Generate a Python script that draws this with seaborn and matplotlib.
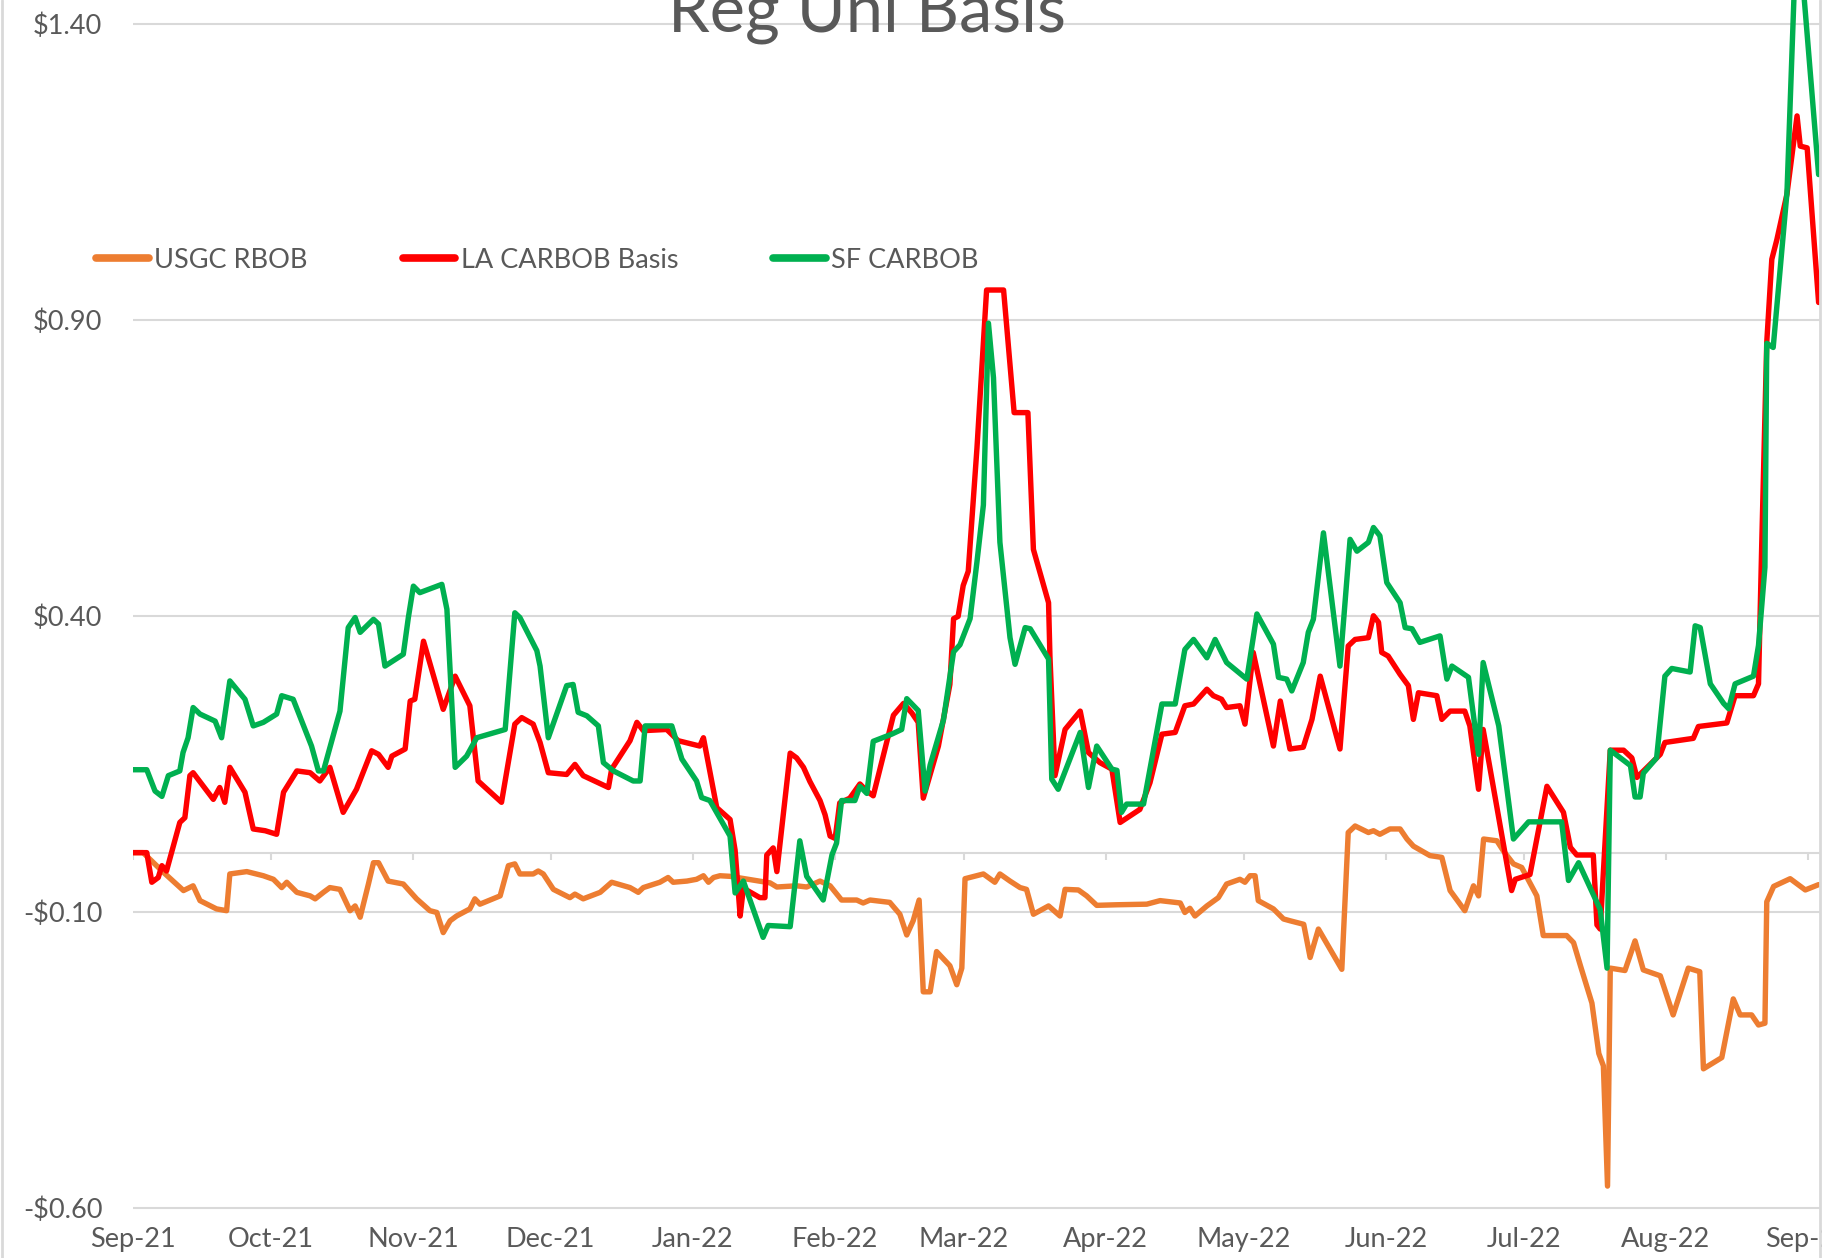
import pandas as pd
import matplotlib.pyplot as plt
import matplotlib.dates as mdates
from matplotlib.lines import Line2D
from matplotlib.ticker import FuncFormatter
import seaborn as sns

start = pd.Timestamp("2021-09-01")

# x values are days after 2021-09-01, y values in $/gal
usgc_day = [0, 2.2, 6.6, 11.0, 13.1, 14.6, 18.2, 20.4, 21.1, 24.8,
            28.4, 30.6, 32.4, 33.5, 35.7, 38.6, 39.7, 41.5, 42.9, 45.1,
            47.3, 48.4, 49.5, 51.3, 52.4, 53.5, 55.6, 58.9, 61.8, 64.7,
            66.2, 67.6, 69.1, 70.5, 73.4, 74.5, 75.6, 80.0, 81.8, 83.2,
            84.3, 87.2, 88.3, 89.4, 91.6, 95.2, 96.3, 98.1, 101.8, 104.3,
            108.3, 110.1, 111.2, 114.8, 116.6, 117.7, 120.7, 122.8, 124.3, 125.4,
            126.5, 127.9, 130.1, 138.8, 140.3, 144.6, 146.8, 149.7, 151.9, 154.4,
            157.7, 159.1, 160.6, 164.9, 167.1, 168.6, 170.0, 171.3, 172.2, 173.7,
            175.1, 178.0, 179.5, 180.6, 181.3, 185.3, 187.8, 188.9, 191.1, 193.3,
            194.7, 196.2, 199.5, 202.0, 203.1, 206.0, 207.8, 210.0, 214.4, 220.9,
            223.8, 228.2, 229.2, 230.3, 231.4, 234.0, 236.5, 238.3, 241.2, 242.3,
            243.4, 244.5, 245.2, 248.5, 250.7, 252.1, 255.1, 256.5, 258.3, 263.4,
            264.8, 266.3, 269.2, 270.3, 271.7, 273.9, 276.1, 277.6, 279.0, 282.6,
            285.2, 287.0, 290.2, 292.1, 293.2, 294.3, 297.2, 298.6, 300.8, 302.6,
            305.9, 307.3, 312.4, 313.9, 315.4, 317.9, 319.4, 320.4, 321.3, 321.9,
            325.1, 327.3, 329.1, 332.8, 335.6, 338.9, 341.4, 342.2, 346.2, 348.7,
            350.2, 352.7, 354.2, 355.6, 356.0, 357.5, 361.1, 364.4, 367.3]
usgc_val = [0.000, 0.000, -0.033, -0.064, -0.056, -0.081, -0.095, -0.098, -0.036, -0.032,
            -0.039, -0.045, -0.059, -0.050, -0.067, -0.073, -0.078, -0.067, -0.059, -0.062,
            -0.098, -0.090, -0.109, -0.053, -0.017, -0.017, -0.048, -0.053, -0.078, -0.098,
            -0.101, -0.135, -0.115, -0.107, -0.095, -0.078, -0.087, -0.073, -0.022, -0.019,
            -0.036, -0.036, -0.031, -0.036, -0.062, -0.076, -0.070, -0.078, -0.067, -0.050,
            -0.059, -0.067, -0.059, -0.050, -0.042, -0.050, -0.048, -0.045, -0.039, -0.050,
            -0.042, -0.039, -0.040, -0.051, -0.058, -0.056, -0.058, -0.048, -0.056, -0.080,
            -0.080, -0.085, -0.080, -0.084, -0.104, -0.139, -0.115, -0.080, -0.235, -0.235,
            -0.167, -0.191, -0.223, -0.195, -0.044, -0.036, -0.050, -0.036, -0.048, -0.059,
            -0.062, -0.104, -0.090, -0.107, -0.062, -0.063, -0.073, -0.089, -0.088, -0.087,
            -0.081, -0.085, -0.101, -0.094, -0.107, -0.090, -0.076, -0.053, -0.045, -0.050,
            -0.039, -0.039, -0.081, -0.095, -0.112, -0.115, -0.121, -0.177, -0.129, -0.197,
            0.034, 0.045, 0.034, 0.037, 0.031, 0.040, 0.040, 0.023, 0.011, -0.005,
            -0.008, -0.064, -0.098, -0.056, -0.073, 0.023, 0.020, 0.003, -0.019, -0.025,
            -0.073, -0.140, -0.140, -0.152, -0.191, -0.254, -0.339, -0.360, -0.563, -0.195,
            -0.199, -0.149, -0.198, -0.208, -0.274, -0.195, -0.201, -0.365, -0.346, -0.247,
            -0.274, -0.274, -0.291, -0.288, -0.083, -0.057, -0.044, -0.063, -0.054]

la_day = [0, 3.0, 4.1, 5.5, 6.3, 7.3, 10.2, 11.3, 12.4, 13.1,
          17.5, 18.9, 20.0, 21.1, 24.4, 26.2, 28.8, 31.3, 32.8, 35.7,
          38.6, 40.7, 42.9, 45.8, 48.7, 52.0, 53.5, 55.6, 56.4, 59.3,
          60.4, 61.4, 63.3, 67.6, 70.2, 73.4, 75.2, 80.3, 83.2, 84.7,
          87.2, 88.7, 90.5, 94.5, 96.3, 98.1, 103.6, 104.3, 108.3, 109.8,
          111.2, 116.3, 118.8, 123.5, 124.3, 127.2, 130.1, 131.2, 132.3, 133.0,
          136.6, 137.7, 138.1, 139.5, 140.3, 143.2, 144.6, 146.1, 147.5, 149.7,
          150.8, 151.9, 153.0, 154.0, 156.2, 158.4, 159.9, 161.3, 165.7, 167.9,
          169.7, 171.1, 172.2, 175.5, 178.0, 178.8, 179.8, 180.9, 182.0, 183.9,
          186.0, 189.7, 192.0, 195.0, 196.2, 199.5, 199.8, 200.9, 203.1, 206.4,
          208.2, 210.7, 213.3, 215.1, 219.4, 221.6, 224.2, 227.1, 229.2, 231.1,
          234.0, 235.4, 237.2, 238.3, 241.2, 242.3, 244.1, 248.5, 250.0, 252.1,
          255.0, 256.9, 258.7, 263.0, 264.8, 266.3, 269.2, 270.3, 271.4, 272.1,
          273.5, 276.1, 277.9, 279.0, 280.1, 284.1, 285.2, 287.0, 290.2, 291.3,
          293.2, 294.2, 300.4, 301.2, 304.4, 308.1, 311.7, 313.2, 314.6, 318.2,
          319.0, 319.7, 321.9, 324.8, 326.6, 327.7, 332.8, 333.8, 340.0, 341.1,
          347.3, 349.1, 353.1, 354.2, 354.9, 356.0, 357.1, 358.2, 360.4, 362.6,
          363.3, 364.8, 367.3]
la_val = [0.000, 0.000, -0.050, -0.042, -0.022, -0.031, 0.051, 0.059, 0.130, 0.135,
          0.090, 0.110, 0.085, 0.144, 0.102, 0.040, 0.037, 0.031, 0.102, 0.138,
          0.135, 0.121, 0.144, 0.068, 0.107, 0.172, 0.166, 0.144, 0.163, 0.175,
          0.256, 0.259, 0.357, 0.242, 0.298, 0.248, 0.121, 0.085, 0.217, 0.228,
          0.217, 0.186, 0.135, 0.132, 0.149, 0.130, 0.110, 0.141, 0.189, 0.220,
          0.206, 0.208, 0.189, 0.180, 0.194, 0.076, 0.056, 0.004, -0.107, -0.060,
          -0.076, -0.076, -0.004, 0.008, -0.032, 0.168, 0.160, 0.144, 0.120, 0.088,
          0.064, 0.028, 0.024, 0.084, 0.092, 0.116, 0.104, 0.096, 0.232, 0.252,
          0.236, 0.220, 0.092, 0.180, 0.284, 0.395, 0.399, 0.451, 0.475, 0.683,
          0.950, 0.950, 0.743, 0.743, 0.512, 0.422, 0.332, 0.130, 0.208, 0.239,
          0.169, 0.152, 0.141, 0.051, 0.073, 0.118, 0.200, 0.203, 0.248, 0.251,
          0.276, 0.265, 0.259, 0.245, 0.248, 0.217, 0.338, 0.180, 0.256, 0.175,
          0.178, 0.225, 0.298, 0.175, 0.349, 0.360, 0.363, 0.400, 0.389, 0.338,
          0.332, 0.301, 0.282, 0.225, 0.270, 0.265, 0.225, 0.239, 0.239, 0.214,
          0.107, 0.208, -0.064, -0.045, -0.037, 0.112, 0.068, 0.009, -0.004, -0.004,
          -0.122, -0.129, 0.173, 0.173, 0.160, 0.127, 0.166, 0.186, 0.193, 0.213,
          0.219, 0.265, 0.265, 0.285, 0.519, 0.862, 1.002, 1.035, 1.112, 1.244,
          1.193, 1.190, 0.929]

sf_day = [0, 3.0, 4.8, 6.3, 7.7, 10.2, 10.9, 12.0, 13.1, 14.6,
          17.9, 19.3, 21.1, 24.4, 26.2, 28.4, 31.3, 32.4, 34.9, 38.9,
          40.4, 41.5, 45.1, 46.9, 48.4, 49.5, 52.4, 53.5, 54.9, 58.9,
          60.0, 61.1, 62.5, 67.3, 68.4, 70.2, 72.7, 74.9, 81.1, 83.2,
          84.3, 88.0, 88.7, 90.5, 94.5, 95.9, 97.0, 98.9, 101.4, 102.5,
          104.7, 109.0, 110.5, 111.6, 117.4, 119.6, 122.8, 123.9, 125.7, 130.1,
          131.2, 133.0, 137.3, 138.4, 143.2, 145.3, 146.8, 150.4, 152.3, 153.3,
          154.4, 157.3, 158.4, 159.9, 161.3, 165.3, 167.5, 168.6, 171.1, 172.6,
          173.7, 176.6, 178.8, 180.2, 182.4, 183.9, 185.3, 186.4, 187.5, 188.9,
          191.1, 192.2, 194.4, 195.5, 199.5, 200.2, 201.6, 206.4, 208.2, 210.0,
          213.3, 214.4, 215.4, 216.5, 220.2, 224.2, 227.1, 229.2, 231.1, 234.0,
          235.8, 238.3, 242.7, 244.9, 248.5, 249.6, 251.4, 252.5, 255.0, 256.1,
          257.2, 259.4, 263.0, 265.2, 266.7, 269.2, 270.3, 271.7, 273.2, 276.1,
          277.2, 278.7, 280.4, 284.8, 286.3, 287.4, 291.0, 293.2, 294.2, 297.6,
          300.8, 304.1, 311.3, 312.8, 315.0, 319.7, 321.2, 321.9, 326.3, 327.3,
          328.4, 329.1, 332.0, 333.8, 335.3, 339.3, 340.4, 341.5, 343.7, 346.6,
          347.7, 349.1, 353.1, 354.2, 355.6, 356.0, 357.4, 360.4, 362.6, 367.3]
sf_val = [0.140, 0.140, 0.104, 0.095, 0.130, 0.138, 0.169, 0.194, 0.245, 0.234,
          0.222, 0.194, 0.290, 0.259, 0.214, 0.220, 0.234, 0.265, 0.259, 0.180,
          0.138, 0.138, 0.239, 0.380, 0.397, 0.372, 0.394, 0.386, 0.315, 0.335,
          0.397, 0.450, 0.439, 0.453, 0.411, 0.144, 0.163, 0.194, 0.208, 0.405,
          0.397, 0.341, 0.315, 0.194, 0.282, 0.284, 0.237, 0.231, 0.214, 0.152,
          0.138, 0.121, 0.121, 0.214, 0.214, 0.158, 0.121, 0.093, 0.088, 0.028,
          -0.068, -0.048, -0.143, -0.123, -0.125, 0.020, -0.040, -0.080, -0.004, 0.016,
          0.088, 0.088, 0.112, 0.100, 0.188, 0.200, 0.208, 0.260, 0.240, 0.104,
          0.148, 0.224, 0.339, 0.351, 0.395, 0.491, 0.587, 0.894, 0.802, 0.524,
          0.363, 0.318, 0.380, 0.378, 0.327, 0.124, 0.107, 0.203, 0.110, 0.180,
          0.141, 0.139, 0.068, 0.082, 0.082, 0.251, 0.251, 0.343, 0.360, 0.329,
          0.360, 0.321, 0.293, 0.403, 0.352, 0.296, 0.293, 0.273, 0.321, 0.372,
          0.394, 0.540, 0.315, 0.529, 0.509, 0.524, 0.549, 0.535, 0.456, 0.422,
          0.380, 0.378, 0.355, 0.366, 0.293, 0.315, 0.296, 0.166, 0.321, 0.214,
          0.023, 0.052, 0.052, -0.047, -0.017, -0.096, -0.195, 0.173, 0.147, 0.094,
          0.094, 0.134, 0.160, 0.298, 0.311, 0.305, 0.383, 0.380, 0.285, 0.252,
          0.243, 0.285, 0.298, 0.350, 0.482, 0.860, 0.853, 1.114, 1.590, 1.145]

series_names = ["USGC RBOB", "LA CARBOB Basis", "SF CARBOB"]
series_colors = ["#ED7D31", "#FF0000", "#00B050"]
y_ticks = [-0.60, -0.10, 0.40, 0.90, 1.40]

frames = []
for name, days, vals in zip(series_names, [usgc_day, la_day, sf_day], [usgc_val, la_val, sf_val]):
    frames.append(pd.DataFrame({"date": start + pd.to_timedelta(days, unit="D"),
                                "basis": vals, "series": name}))
df = pd.concat(frames, ignore_index=True)

sns.set_style("white")
plt.rcParams['font.family'] = ['Lato', 'DejaVu Sans']
grey_text = "#595959"
grid_col = "#D9D9D9"

fig = plt.figure(figsize=(18.22, 12.58), dpi=100)
ax = fig.add_axes([133 / 1822, 48 / 1258, (1820 - 133) / 1822, 1210 / 1258])

sns.lineplot(data=df, x="date", y="basis", hue="series", hue_order=series_names,
             palette=dict(zip(series_names, series_colors)), estimator=None,
             sort=False, linewidth=3.9, ax=ax, zorder=3)
ax.get_legend().remove()

ax.set_xlim(start, start + pd.Timedelta(days=367.6))
ax.set_ylim(-0.6034, 1.4397)
ax.set_yticks(y_ticks)
ax.yaxis.set_major_formatter(FuncFormatter(lambda v, p: f"${v:.2f}" if v >= 0 else f"-${-v:.2f}"))
ax.yaxis.grid(True, color=grid_col, lw=1.5)
ax.xaxis.grid(False)

# horizontal axis crosses at zero, with month tick marks
month_starts = pd.date_range("2021-09-01", "2022-09-01", freq="MS")
ax.axhline(0, color=grid_col, lw=1.5, zorder=1)
ax.vlines(month_starts, -0.012, 0, color=grid_col, lw=1.5, zorder=1)

ax.xaxis.set_major_locator(mdates.MonthLocator())
ax.xaxis.set_major_formatter(mdates.DateFormatter("%b-%y"))
ax.tick_params(axis="x", length=0, pad=12, labelsize=19.5, labelcolor=grey_text)
ax.tick_params(axis="y", length=0, pad=22, labelsize=19.5, labelcolor=grey_text)
ax.set_xlabel("")
ax.set_ylabel("")
for s in ax.spines.values():
    s.set_visible(False)

handles = [Line2D([0], [0], color=c, lw=5.5) for c in series_colors]
fig.legend(handles, series_names, loc="center left", bbox_to_anchor=(96 / 1822, 1 - 260 / 1258),
           ncol=3, frameon=False, fontsize=19.5, labelcolor=grey_text, handlelength=1.95,
           handletextpad=0.2, columnspacing=3.5, borderpad=0, borderaxespad=0)

fig.text(867 / 1822, 1 - 32 / 1258, "Reg Uni Basis", ha="center", va="baseline",
         fontsize=48, color=grey_text)

# chart area border
for xb in (2, 1820):
    fig.add_artist(Line2D([xb / 1822] * 2, [0, 1], transform=fig.transFigure, color=grid_col, lw=2))

fig.savefig("out.png", dpi=100)
